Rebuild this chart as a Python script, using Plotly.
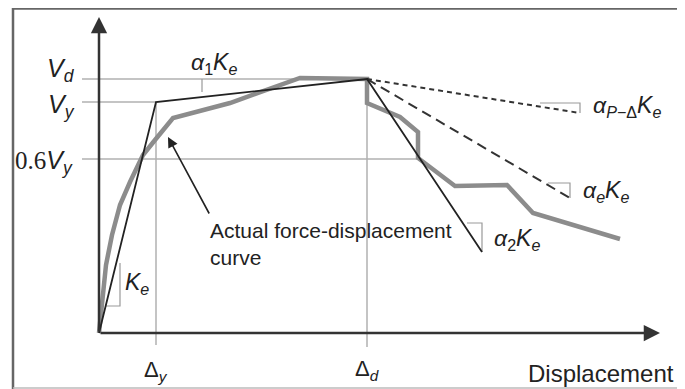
import plotly.graph_objects as go

# ---- data (displacement / force units, origin at axis origin) ----
# idealised bilinear + post-peak branch
bilin_x = [0, 57, 268, 383]
bilin_y = [0, 231, 254, 81]
# key levels
Dy, Dd = 57, 268
Vy, Vd, V06 = 231, 254, 174
# actual force-displacement curve
act_x = [0, 3, 7, 13, 21, 31, 44, 56, 74, 131, 201, 268, 268, 301, 319, 319, 356, 408, 434, 521]
act_y = [0, 33, 68, 98, 128, 151, 178, 193, 215, 230, 255, 254, 230, 216, 201, 175, 147, 148, 120, 94]
# post-peak dashed lines
pdelta_x = [268, 481]
pdelta_y = [254, 220]
ae_x = [268, 471]
ae_y = [254, 135]
# slope triangles
tri_ke_x, tri_ke_y = [21, 21, 7], [70, 27, 27]
tri_a1_x, tri_a1_y = [103, 103], [254, 241]
tri_a2_x, tri_a2_y = [368, 383, 383], [110, 110, 81]
tri_pd_x, tri_pd_y = [441, 481, 481], [230, 230, 220]
tri_ae_x, tri_ae_y = [449, 471, 471], [150, 150, 135]

W, H = 677, 381  # page adds an 8px body margin

fig = go.Figure()

REF = "#b0b0b0"
# reference lines
fig.add_trace(go.Scatter(x=[-17, Dd], y=[Vd, Vd], mode="lines", line=dict(color=REF, width=1.5)))
fig.add_trace(go.Scatter(x=[-17, Dy], y=[Vy, Vy], mode="lines", line=dict(color=REF, width=1.5)))
fig.add_trace(go.Scatter(x=[-17, 319], y=[V06, V06], mode="lines", line=dict(color=REF, width=1.5)))
fig.add_trace(go.Scatter(x=[Dy, Dy], y=[-12, Vy], mode="lines", line=dict(color=REF, width=1.5)))
fig.add_trace(go.Scatter(x=[Dd, Dd], y=[-14, Vd], mode="lines", line=dict(color=REF, width=1.5)))

# triangles
for tx, ty in [(tri_ke_x, tri_ke_y), (tri_a1_x, tri_a1_y), (tri_a2_x, tri_a2_y),
               (tri_pd_x, tri_pd_y), (tri_ae_x, tri_ae_y)]:
    fig.add_trace(go.Scatter(x=tx, y=ty, mode="lines", line=dict(color="#999999", width=1.2)))

# actual curve
fig.add_trace(go.Scatter(x=act_x, y=act_y, mode="lines",
                         line=dict(color="#8c8c8c", width=4.5)))
# dashed
fig.add_trace(go.Scatter(x=pdelta_x, y=pdelta_y, mode="lines",
                         line=dict(color="#333333", width=2, dash="5px,4px")))
fig.add_trace(go.Scatter(x=ae_x, y=ae_y, mode="lines",
                         line=dict(color="#333333", width=2, dash="10px,6px")))
# bilinear
fig.add_trace(go.Scatter(x=bilin_x, y=bilin_y, mode="lines",
                         line=dict(color="#222222", width=1.8)))

# axes arrows
fig.add_annotation(x=561, y=0, ax=0, ay=0, xref="x", yref="y", axref="x", ayref="y",
                   text="", showarrow=True, arrowhead=2, arrowsize=1.3, arrowwidth=2.5,
                   arrowcolor="#333333")
fig.add_annotation(x=0, y=316, ax=0, ay=0, xref="x", yref="y", axref="x", ayref="y",
                   text="", showarrow=True, arrowhead=2, arrowsize=1.3, arrowwidth=2.5,
                   arrowcolor="#333333")
# pointer arrow
fig.add_annotation(x=69, y=196, ax=111, ay=118, xref="x", yref="y", axref="x", ayref="y",
                   text="", showarrow=True, arrowhead=2, arrowsize=1.3, arrowwidth=1.6,
                   arrowcolor="#222222")

F = "Liberation Sans"
def lab(x, y, t, size=22, xa="center", ya="middle", align="center"):
    fig.add_annotation(x=x, y=y, xref="x", yref="y", text=t, showarrow=False,
                       xanchor=xa, yanchor=ya, align=align,
                       font=dict(family=F, size=size, color="#222222"))

lab(109, 89, "Actual force-displacement<br>curve", size=21, xa="left", align="left")
lab(577, -40, "Displacement", size=24, xa="right")

lab(-22, 263, "<i>V</i><sub><i>d</i></sub>", size=25, xa="right")
lab(-22, 227, "<i>V</i><sub><i>y</i></sub>", size=25, xa="right")
lab(-24, 171, "<span style='font-family:Liberation Serif'>0.6</span><i>V</i><sub><i>y</i></sub>", size=25, xa="right")
lab(Dy, -38, "Δ<sub><i>y</i></sub>", size=22)
lab(Dd, -37, "Δ<sub><i>d</i></sub>", size=22)
lab(38, 50, "<i>K</i><sub><i>e</i></sub>", size=23)
lab(115, 270, "<i>α</i><sub>1</sub><i>K</i><sub><i>e</i></sub>", size=23)
lab(528, 227, "<i>α</i><sub><i>P</i>−Δ</sub><i>K</i><sub><i>e</i></sub>", size=23)
lab(507, 142, "<i>α</i><sub><i>e</i></sub><i>K</i><sub><i>e</i></sub>", size=23)
lab(418, 94, "<i>α</i><sub>2</sub><i>K</i><sub><i>e</i></sub>", size=23)

# outer frame
fig.add_shape(type="line", xref="paper", yref="paper", x0=5/W, x1=5/W, y0=0, y1=1,
              line=dict(color="#666666", width=2.5))
fig.add_shape(type="line", xref="paper", yref="paper", x0=5/W, x1=1.01, y0=1-0.5/H, y1=1-0.5/H,
              line=dict(color="#666666", width=2.5))
fig.add_shape(type="line", xref="paper", yref="paper", x0=5/W, x1=1.01, y0=1/H, y1=1/H,
              line=dict(color="#bbbbbb", width=1.5))

fig.update_layout(
    width=W, height=H, margin=dict(l=0, r=0, t=0, b=0),
    paper_bgcolor="white", plot_bgcolor="white", showlegend=False,
    xaxis=dict(range=[-91, 586], visible=False, fixedrange=True),
    yaxis=dict(range=[-56, 325], visible=False, fixedrange=True),
)
fig.write_html("out.html")
